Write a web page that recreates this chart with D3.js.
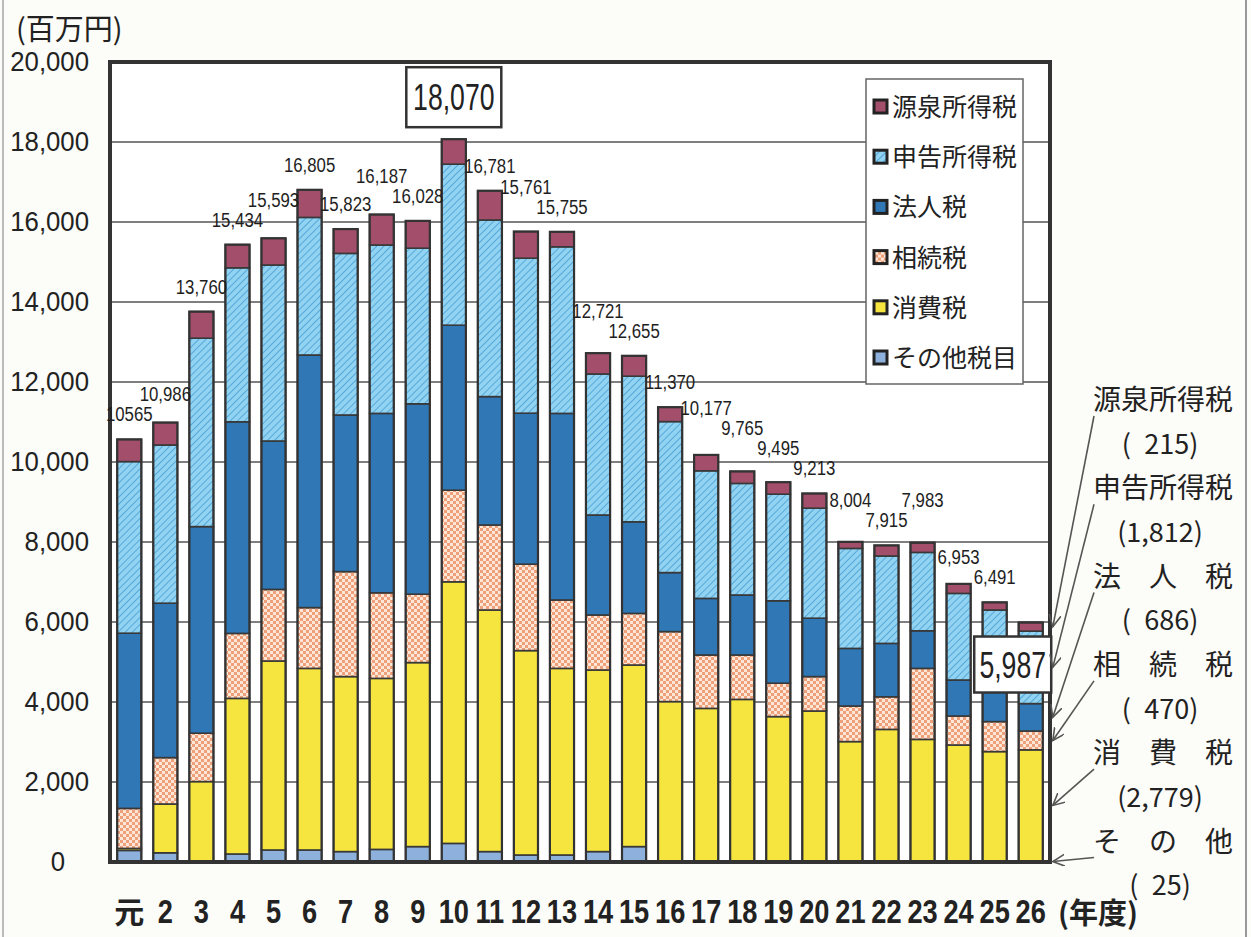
<!DOCTYPE html>
<html>
<head>
<meta charset="utf-8">
<title>税目別税収の推移</title>
<script src="https://cdn.jsdelivr.net/npm/d3@7"></script>
<style>
  body { margin: 0; background: #fcfcf8; }
  svg { display: block; }
</style>
</head>
<body>
<script>
// 年度（平成）
var years = ["元","2","3","4","5","6","7","8","9","10","11","12","13",
             "14","15","16","17","18","19","20","21","22","23","24","25","26"];

// 税目別の税収（百万円） 下から積み上げる順
var sonota   = [290, 230,  30, 200, 300, 300, 260, 315, 385, 465, 260, 175, 175,
                260, 385,  30,  30,  30,  30,  30,  30,  30,  30,  30,  30,  25];
var shohi    = [  50, 1220, 1980, 3890, 4725, 4540, 4375, 4275, 4600, 6540, 6040, 5110, 4665,
                4540, 4540, 3980, 3810, 4035, 3605, 3745, 2980, 3285, 3035, 2895, 2730, 2779];
var sozoku   = [1000, 1160, 1210, 1625, 1790, 1520, 2625, 2140, 1710, 2290, 2125, 2160, 1710,
                1375, 1290, 1750, 1335, 1110,  835,  860,  890,  815, 1775,  725,  750,  470];
var hojin    = [4380, 3860, 5165, 5290, 3710, 6315, 3915, 4485, 4760, 4125, 3210, 3775, 4665,
                2500, 2290, 1475, 1415, 1500, 2060, 1460, 1440, 1335,  940,  900,  890,  686];
var shinkoku = [4290, 3955, 4710, 3850, 4400, 3440, 4040, 4210, 3890, 4025, 4415, 3875, 4165,
                3525, 3640, 3775, 3190, 2790, 2665, 2750, 2500, 2185, 1960, 2165, 1900, 1812];
var gensen   = [ 555,  561,  665,  579,  668,  690,  608,  762,  683,  625,  731,  666,  375,
                 521,  510,  360,  397,  300,  300,  368,  164,  265,  243,  238,  191,  215];

// 合計のラベル
var totalLabels = ["10565","10,986","13,760","15,434","15,593","16,805","15,823","16,187","16,028",
                   "18,070","16,781","15,761","15,755","12,721","12,655","11,370","10,177","9,765",
                   "9,495","9,213","8,004","7,915","7,983","6,953","6,491","5,987"];

var keys = ["sonota","shohi","sozoku","hojin","shinkoku","gensen"];
var legendNames = {gensen:"源泉所得税", shinkoku:"申告所得税", hojin:"法人税",
                   sozoku:"相続税", shohi:"消費税", sonota:"その他税目"};
var annoNames = {gensen:"源泉所得税", shinkoku:"申告所得税", hojin:"法　人　税",
                 sozoku:"相　続　税", shohi:"消　費　税", sonota:"そ　の　他"};

var rows = years.map(function(y, i) {
  return {year: y, sonota: sonota[i], shohi: shohi[i], sozoku: sozoku[i],
          hojin: hojin[i], shinkoku: shinkoku[i], gensen: gensen[i], label: totalLabels[i]};
});

var W = 1251, H = 937;
var plotL = 110, plotR = 1050, plotT = 62, plotB = 862;
var jp = "'Noto Sans CJK JP', sans-serif";
var sans = "'Liberation Sans', Arial, sans-serif";

var svg = d3.select("body").append("svg").attr("width", W).attr("height", H);

var defs = svg.append("defs");
// 申告所得税の斜線
var hatch = defs.append("pattern").attr("id", "hatch").attr("patternUnits", "userSpaceOnUse")
  .attr("width", 5).attr("height", 5).attr("patternTransform", "rotate(45)");
hatch.append("rect").attr("width", 5).attr("height", 5).attr("fill", "#93d3f2");
hatch.append("line").attr("x1", 0).attr("y1", 0).attr("x2", 0).attr("y2", 5)
  .attr("stroke", "#3f9bd4").attr("stroke-width", 1.5);
// 相続税の格子
var checker = defs.append("pattern").attr("id", "checker").attr("patternUnits", "userSpaceOnUse")
  .attr("width", 6).attr("height", 6);
checker.append("rect").attr("width", 6).attr("height", 6).attr("fill", "#fde6d6");
checker.append("rect").attr("width", 3).attr("height", 3).attr("fill", "#eda07a");
checker.append("rect").attr("x", 3).attr("y", 3).attr("width", 3).attr("height", 3).attr("fill", "#eda07a");
// 矢印
defs.append("marker").attr("id", "arr").attr("markerUnits", "userSpaceOnUse")
  .attr("markerWidth", 14).attr("markerHeight", 14).attr("refX", 12).attr("refY", 6)
  .attr("orient", "auto")
  .append("path").attr("d", "M0,0 L12,6 L0,12").attr("fill", "none")
  .attr("stroke", "#555").attr("stroke-width", 1.6);

var fills = {sonota: "#8db1dc", shohi: "#f6e53e", sozoku: "url(#checker)",
             hojin: "#2f77b5", shinkoku: "url(#hatch)", gensen: "#a34f6b"};

var x = d3.scaleBand().domain(years).range([plotL, plotR]).paddingInner(0.33).paddingOuter(0.2);
var y = d3.scaleLinear().domain([0, 20000]).range([plotB, plotT]);
var ticks = d3.range(0, 20001, 2000);

// 細い文字（横に縮めて描く）
function narrowText(g, tx, ty, sx) {
  return g.append("text").attr("transform", "translate(" + tx + "," + ty + ") scale(" + sx + ",1)");
}

// 紙の枠線
svg.append("line").attr("x1", 3).attr("x2", 3).attr("y1", 0).attr("y2", H).attr("stroke", "#bbb").attr("stroke-width", 2);
svg.append("line").attr("x1", 1246).attr("x2", 1246).attr("y1", 0).attr("y2", H).attr("stroke", "#999").attr("stroke-width", 2);

svg.append("rect").attr("x", plotL).attr("y", plotT).attr("width", plotR - plotL).attr("height", plotB - plotT)
  .attr("fill", "#ffffff");

// 目盛線
svg.append("g").selectAll("line").data(ticks.slice(1, -1)).enter().append("line")
  .attr("x1", plotL).attr("x2", plotR)
  .attr("y1", function(d) { return y(d); }).attr("y2", function(d) { return y(d); })
  .attr("stroke", "#555").attr("stroke-width", 1.6);

// 縦軸
var yAxis = svg.append("g").attr("transform", "translate(89,0)")
  .call(d3.axisLeft(y).tickValues(ticks).tickFormat(d3.format(",")).tickSize(0).tickPadding(0));
yAxis.select(".domain").remove();
yAxis.selectAll("text").attr("font-family", sans).attr("font-size", 28).attr("fill", "#222")
  .attr("transform", "scale(0.92,1)");
yAxis.selectAll("text").filter(function(d) { return d === 0; }).attr("x", -26);

svg.append("text").attr("x", 16).attr("y", 40).attr("font-family", jp).attr("font-size", 29)
  .attr("fill", "#222").text("(百万円)");

// 積み上げ棒
var stack = d3.stack().keys(keys)(rows);
svg.append("g").selectAll("g").data(stack).enter().append("g")
  .attr("fill", function(s) { return fills[s.key]; })
  .selectAll("rect").data(function(s) { return s; }).enter().append("rect")
  .attr("x", function(d) { return x(d.data.year); })
  .attr("width", x.bandwidth())
  .attr("y", function(d) { return y(d[1]); })
  .attr("height", function(d) { return y(d[0]) - y(d[1]); })
  .attr("stroke", "#383838").attr("stroke-width", 1.6);

function total(d) { return d3.sum(keys, function(k) { return d[k]; }); }

svg.append("g").selectAll("rect").data(rows).enter().append("rect")
  .attr("x", function(d) { return x(d.year); })
  .attr("width", x.bandwidth())
  .attr("y", function(d) { return y(total(d)); })
  .attr("height", function(d) { return plotB - y(total(d)); })
  .attr("fill", "none").attr("stroke", "#333").attr("stroke-width", 2.2);

// 外枠
svg.append("rect").attr("x", plotL).attr("y", plotT).attr("width", plotR - plotL).attr("height", plotB - plotT)
  .attr("fill", "none").attr("stroke", "#333").attr("stroke-width", 4);

// 合計ラベル（隣と重なるときは高い方の棒のラベルを上げる）
var boxed = {"10": -42, "26": 42};
var labels = svg.append("g");
var placed = [];
rows.forEach(function(d) {
  if (d.year in boxed) { placed.push(null); return; }
  var p = {t: total(d), cx: x(d.year) + x.bandwidth() / 2, by: y(total(d)) - 18};
  p.el = narrowText(labels, p.cx, p.by, 0.8).attr("text-anchor", "middle")
    .attr("font-family", sans).attr("font-size", 21).attr("fill", "#1e1e1e").text(d.label);
  p.w = p.el.node().getBBox().width * 0.8;
  placed.push(p);
});
for (var pass = 0; pass < 6; pass++) {
  for (var i = 1; i < placed.length; i++) {
    var p = placed[i], q = placed[i - 1];
    if (!p || !q) continue;
    if (Math.abs(p.cx - q.cx) < (p.w + q.w) / 2 + 2 && Math.abs(p.by - q.by) < 19) {
      if (p.t >= q.t) p.by = q.by - 20; else q.by = p.by - 20;
    }
  }
}
placed.forEach(function(p) {
  if (p) p.el.attr("transform", "translate(" + p.cx + "," + p.by + ") scale(0.8,1)");
});

rows.filter(function(d) { return d.year in boxed; }).forEach(function(d) {
  var big = d.year === "10";
  var cx = x(d.year) + x.bandwidth() / 2 - (big ? 0 : 18);
  var cy = y(total(d)) + boxed[d.year];
  var bw = big ? 95 : 77, bh = big ? 60 : 56;
  svg.append("rect").attr("x", cx - bw / 2).attr("y", cy - bh / 2).attr("width", bw).attr("height", bh)
    .attr("fill", "#fff").attr("stroke", "#333").attr("stroke-width", 2.5);
  narrowText(svg, cx, cy + 13, 0.72).attr("text-anchor", "middle")
    .attr("font-family", sans).attr("font-size", 37).attr("fill", "#222").text(d.label);
});

// 凡例
var legendKeys = keys.slice().reverse();
var lg = svg.append("g").attr("transform", "translate(866,79)");
lg.append("rect").attr("width", 157).attr("height", 305).attr("fill", "#fff")
  .attr("stroke", "#666").attr("stroke-width", 1.5);
var li = lg.selectAll("g").data(legendKeys).enter().append("g")
  .attr("transform", function(d, i) { return "translate(0," + (28 + i * 50.2) + ")"; });
li.append("rect").attr("x", 8).attr("y", -7).attr("width", 13).attr("height", 13)
  .attr("fill", function(d) { return fills[d]; }).attr("stroke", "#222").attr("stroke-width", 3);
li.append("text").attr("x", 26).attr("dy", "0.36em").attr("font-family", jp).attr("font-size", 25)
  .attr("fill", "#222").text(function(d) { return legendNames[d]; });

// 横軸ラベル
var xl = svg.append("g");
years.forEach(function(d) {
  var cx = x(d) + x.bandwidth() / 2;
  if (d === "元") {
    xl.append("text").attr("x", cx).attr("y", 923).attr("text-anchor", "middle")
      .attr("font-family", jp).attr("font-weight", "bold").attr("font-size", 30)
      .attr("fill", "#222").text(d);
  } else {
    narrowText(xl, cx, 923, 0.8).attr("text-anchor", "middle").attr("font-family", sans)
      .attr("font-weight", "bold").attr("font-size", 34).attr("fill", "#222").text(d);
  }
});
svg.append("text").attr("x", 1058).attr("y", 924).attr("font-family", jp).attr("font-weight", "bold")
  .attr("font-size", 29).attr("fill", "#222").text("(年度)");

// 26年度の内訳
var last = stack.map(function(s) { return {key: s.key, seg: s[s.length - 1]}; }).reverse();
var fmt = d3.format(",");
var anno = svg.append("g");
last.forEach(function(o, i) {
  var v = o.seg.data[o.key];
  var ty = 400 + i * 88.3;
  anno.append("text").attr("x", 1163).attr("y", ty).attr("dy", "0.36em").attr("text-anchor", "middle")
    .attr("font-family", jp).attr("font-size", 28).attr("fill", "#222").text(annoNames[o.key]);
  anno.append("text").attr("x", 1160).attr("y", ty + 44).attr("dy", "0.36em").attr("text-anchor", "middle")
    .attr("font-family", jp).attr("font-size", 27).attr("fill", "#222")
    .text(v < 1000 ? "(\u2002" + fmt(v) + ")" : "(" + fmt(v) + ")");
  var tx = x(o.seg.data.year) + x.bandwidth() + 10;
  anno.append("line").attr("x1", 1094).attr("y1", ty + 16)
    .attr("x2", tx).attr("y2", y((o.seg[0] + o.seg[1]) / 2))
    .attr("stroke", "#555").attr("stroke-width", 1.6).attr("marker-end", "url(#arr)");
});
</script>
</body>
</html>
